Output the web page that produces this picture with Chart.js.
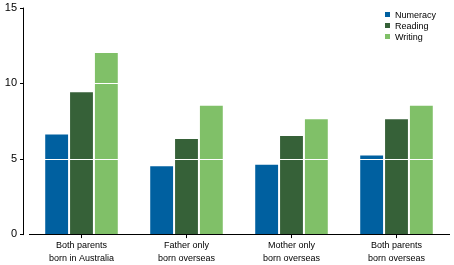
<!DOCTYPE html>
<html>
<head>
<meta charset="utf-8">
<script src="https://cdn.jsdelivr.net/npm/chart.js@4/dist/chart.umd.min.js"></script>
<style>
  body { margin: 0; background: #fff; overflow: hidden; }
  #wrap { position: relative; width: 454px; height: 265px; overflow: hidden; }
  #myChart { position: absolute; left: 0; top: -11px; }
  #legend { position: absolute; left: 385px; top: 10px; font: 9px "Liberation Sans", Arial, sans-serif; color: #000; }
  #legend div { height: 10.8px; line-height: 10.8px; white-space: nowrap; }
  #legend span { display: inline-block; width: 5px; height: 5px; margin-right: 5px; vertical-align: 1px; }
</style>
</head>
<body>
<div id="wrap">
  <canvas id="myChart" width="454" height="277"></canvas>
  <div id="legend"></div>
</div>
<script>
const categories = [
    ['Both parents', 'born in Australia'],
    ['Father only', 'born overseas'],
    ['Mother only', 'born overseas'],
    ['Both parents', 'born overseas']
];
const seriesNames = ['Numeracy', 'Reading', 'Writing'];
const numeracy = [6.6, 4.5, 4.6, 5.2];
const reading = [9.4, 6.3, 6.5, 7.6];
const writing = [12.0, 8.5, 7.6, 8.5];
const yTicks = [0, 5, 10, 15];
const colors = ['#0060a0', '#366138', '#80c068'];

const allSeries = [numeracy, reading, writing];

// legend in the top right corner
const legendBox = document.getElementById('legend');
seriesNames.forEach((n, i) => {
    const row = document.createElement('div');
    const sw = document.createElement('span');
    sw.style.background = colors[i];
    row.appendChild(sw);
    row.appendChild(document.createTextNode(n));
    legendBox.appendChild(row);
});

// white gridlines over the bars, and the y axis line a few pixels left of the plot
const axisExtras = {
    id: 'axisExtras',
    afterDatasetsDraw(chart) {
        const c = chart.ctx;
        const area = chart.chartArea;
        const y = chart.scales.y;
        c.save();
        c.strokeStyle = '#fff';
        c.lineWidth = 1;
        c.beginPath();
        for (const t of yTicks) {
            if (t === 0 || t === 15) continue;
            const py = Math.round(y.getPixelForValue(t)) + 0.5;
            c.moveTo(area.left, py);
            c.lineTo(area.right, py);
        }
        c.stroke();
        c.restore();
    },
    afterDraw(chart) {
        const c = chart.ctx;
        const area = chart.chartArea;
        const y = chart.scales.y;
        const x = area.left - 6;
        c.save();
        c.strokeStyle = '#000';
        c.lineWidth = 1;
        c.beginPath();
        c.moveTo(x + 0.5, y.getPixelForValue(15));
        c.lineTo(x + 0.5, y.getPixelForValue(0) + 1);
        for (const t of yTicks) {
            const py = Math.round(y.getPixelForValue(t)) + 0.5;
            c.moveTo(x - 3, py);
            c.lineTo(x + 1, py);
        }
        c.stroke();
        c.restore();
    }
};

const font = { family: '"Liberation Sans", Arial, sans-serif', size: 9, lineHeight: 1.44 };

new Chart(document.getElementById('myChart').getContext('2d'), {
    type: 'bar',
    data: {
        labels: categories,
        datasets: allSeries.map((d, i) => ({
            label: seriesNames[i],
            data: d,
            backgroundColor: colors[i],
            borderWidth: 0,
            barPercentage: 0.92,
            categoryPercentage: 0.71
        }))
    },
    options: {
        responsive: false,
        animation: false,
        layout: { padding: { top: 0, right: 5, left: 0, bottom: 0 } },
        plugins: {
            legend: { display: false },
            tooltip: { enabled: false }
        },
        scales: {
            x: {
                grid: { drawOnChartArea: false, offset: false, color: '#000', tickLength: 4 },
                border: { color: '#000', width: 1 },
                ticks: { color: '#000', font: font, padding: 1, maxRotation: 0 }
            },
            y: {
                min: 0,
                max: 15,
                afterBuildTicks: s => { s.ticks = yTicks.map(v => ({ value: v })); },
                afterFit: s => { s.width = 29; },
                grid: { display: false, drawTicks: false },
                border: { display: false },
                ticks: {
                    color: '#000',
                    padding: 12,
                    font: { family: '"Liberation Sans", Arial, sans-serif', size: 11 }
                }
            }
        }
    },
    plugins: [axisExtras]
});
</script>
</body>
</html>
